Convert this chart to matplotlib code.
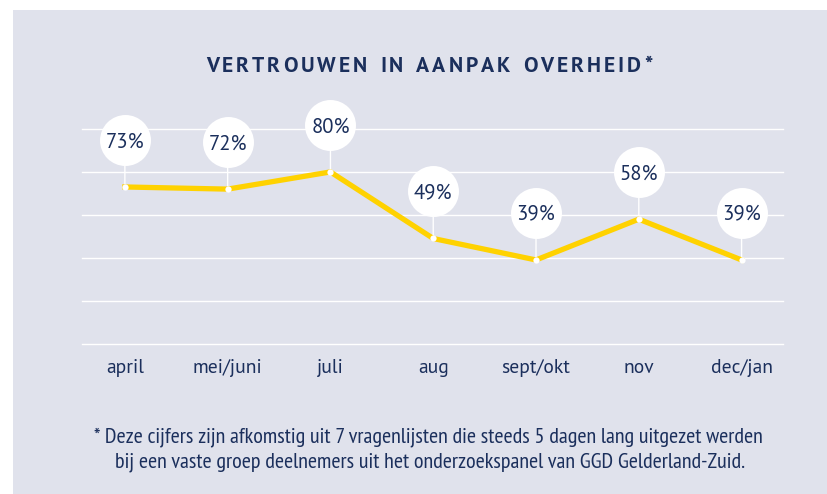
import matplotlib
matplotlib.use("Agg")
import matplotlib.pyplot as plt
from matplotlib.patches import Rectangle
from matplotlib.transforms import ScaledTranslation
from matplotlib import font_manager as fm

categories = ["april", "mei/juni", "juli", "aug", "sept/okt", "nov", "dec/jan"]
values = [73, 72, 80, 49, 39, 58, 39]
labels = ["73%", "72%", "80%", "49%", "39%", "58%", "39%"]
title = "VERTROUWEN IN AANPAK OVERHEID*"
footnote_lines = ["* Deze cijfers zijn afkomstig uit 7 vragenlijsten die steeds 5 dagen lang uitgezet werden",
                  "bij een vaste groep deelnemers uit het onderzoekspanel van GGD Gelderland-Zuid."]

NAVY = "#1b2f5c"
BG = "#e0e2ec"
YELLOW = "#ffd200"

names = {f.name for f in fm.fontManager.ttflist}
def pick(*c):
    for n in c:
        if n in names:
            return n
    return "DejaVu Sans"
main = pick("PT Sans", "Source Sans 3", "Open Sans")
cond = pick("PT Sans Narrow", "Roboto Condensed", "Open Sans")

W, H = 827, 494
fig = plt.figure(figsize=(W / 100, H / 100), dpi=100)
fig.patch.set_facecolor("white")
fig.patches.append(Rectangle((13 / W, 0), 1 - 13 / W, 1 - 10 / H, transform=fig.transFigure,
                             facecolor=BG, edgecolor="none", zorder=-5))
r = fig.canvas.get_renderer()

def fit(text, target, **kw):
    t = fig.text(0, 0, text, fontsize=20, **kw)
    w = t.get_window_extent(renderer=r).width
    t.remove()
    return 20 * target / w

lab_size = fit("73%", 38.5, fontfamily=main)
tick_size = fit("april", 37.7, fontfamily=main)

ax = fig.add_axes([81.7 / W, 1 - 343.7 / H, (782.7 - 81.7) / W, (343.7 - 129) / H])
ax.set_facecolor("none")
x = list(range(len(categories)))
ax.set_xlim(-0.42, 6.40)
ax.set_ylim(0, 100)
for s in ax.spines.values():
    s.set_visible(False)
ax.set_yticks([0, 20, 40, 60, 80, 100])
ax.set_yticklabels([])
ax.tick_params(axis="y", length=0)
ax.grid(axis="y", color="white", linewidth=1.0)
for gl in ax.get_ygridlines():
    gl.set_clip_on(False)
ax.set_xticks(x)
ax.set_xticklabels(categories, fontfamily=main, fontsize=tick_size, color=NAVY)
for lbl in ax.get_xticklabels():
    lbl.set_va("center")
ax.tick_params(axis="x", length=0, pad=24 * 0.72)
ax.set_axisbelow(True)

off = ScaledTranslation(0, 47 / 100, fig.dpi_scale_trans)
for xi, v in zip(x, values):
    ax.annotate("", xy=(xi, v), xytext=(0, 47 * 0.72), textcoords="offset points",
                arrowprops=dict(arrowstyle="-", color="white", lw=1.0, shrinkA=0, shrinkB=0),
                annotation_clip=False, zorder=2)
ax.plot(x, values, color=YELLOW, lw=3.8, solid_joinstyle="miter", zorder=3, clip_on=False)
ax.plot(x, values, "o", color="white", ms=4.5, mec="none", zorder=4, clip_on=False)
ax.plot(x, values, "o", color="white", ms=36.7, mec="none", zorder=5, clip_on=False,
        transform=ax.transData + off)
for xi, v, lab in zip(x, values, labels):
    ax.text(xi, v, lab, transform=ax.transData + off, ha="center", va="center_baseline",
            fontfamily=main, fontsize=lab_size, color=NAVY, zorder=6, clip_on=False)

# title with letter spacing
tprops = dict(fontfamily=main, fontweight="bold", fontsize=15.6, color=NAVY)
widths = []
for ch in title:
    t = fig.text(0, 0, ch if ch != " " else "n", **tprops)
    bb = t.get_window_extent(renderer=r)
    widths.append(bb.width * (0.6 if ch == " " else 1.0))
    t.remove()
track = (446 - sum(widths)) / (len(title) - 1)
xpos = 429 - 446 / 2
ty = H - 64
for ch, w in zip(title, widths):
    if ch != " ":
        fig.text(xpos / W, ty / H, ch, ha="left", va="center_baseline", **tprops)
    xpos += w + track

fprops = dict(fontfamily=cond, fontweight="normal", color=NAVY)
foot_size = fit(footnote_lines[0], 669, **fprops)
fig.text(428 / W, 1 - 437 / H, footnote_lines[0], ha="center", va="center",
         fontsize=foot_size, **fprops)
fig.text(430 / W, 1 - 462 / H, footnote_lines[1], ha="center", va="center",
         fontsize=foot_size, **fprops)

fig.savefig("out.png", dpi=100, facecolor=fig.get_facecolor())
